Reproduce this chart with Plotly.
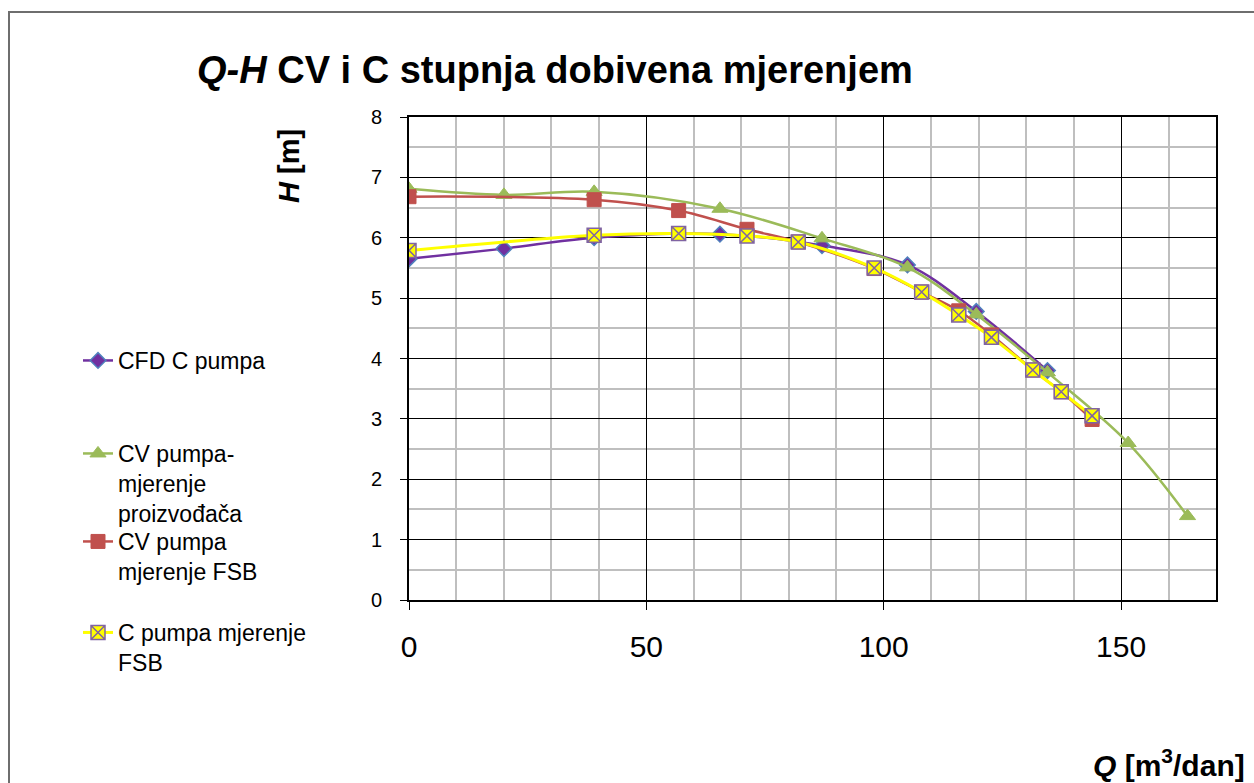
import plotly.graph_objects as go

# Q-H curves: flow Q [m3/dan] vs head H [m]
q_cfd = [0, 20, 39, 65.5, 87, 105, 119.5, 134.5]
h_cfd = [5.65, 5.82, 6.0, 6.06, 5.87, 5.55, 4.78, 3.8]

q_cv_proizv = [0, 20, 39, 65.5, 87, 105, 119.5, 134.5, 151.5, 164]
h_cv_proizv = [6.81, 6.71, 6.76, 6.48, 5.99, 5.51, 4.73, 3.77, 2.6, 1.39]

q_cv_fsb = [0, 39, 56.8, 71.2, 82, 98, 108, 115.8, 122.7, 131.4, 137.4, 143.9]
h_cv_fsb = [6.68, 6.63, 6.45, 6.14, 5.93, 5.49, 5.1, 4.79, 4.39, 3.81, 3.45, 2.99]

q_c_fsb = [0, 39, 56.8, 71.2, 82, 98, 108, 115.8, 122.7, 131.4, 137.4, 143.9]
h_c_fsb = [5.79, 6.04, 6.07, 6.03, 5.93, 5.5, 5.1, 4.72, 4.35, 3.81, 3.45, 3.05]

names = ["CFD C pumpa",
         "CV pumpa-<br>mjerenje<br>proizvođača",
         "CV pumpa<br>mjerenje FSB",
         "C pumpa mjerenje<br>FSB"]

FONT = "Liberation Sans, Arial, sans-serif"

fig = go.Figure()

fig.add_trace(go.Scatter(
    x=q_cfd, y=h_cfd, name=names[0], legend="legend",
    mode="lines+markers", line=dict(color="#7030A0", width=2.5, shape="spline"),
    marker=dict(symbol="diamond", size=12, color="#7030A0",
                line=dict(color="#4F81BD", width=1.5))))

fig.add_trace(go.Scatter(
    x=q_cv_proizv, y=h_cv_proizv, name=names[1], legend="legend2",
    mode="lines+markers", line=dict(color="#9BBB59", width=2.5, shape="spline"),
    marker=dict(symbol="triangle-up", size=14, color="#9BBB59",
                line=dict(color="#9BBB59", width=1))))

fig.add_trace(go.Scatter(
    x=q_cv_fsb, y=h_cv_fsb, name=names[2], legend="legend3",
    mode="lines+markers", line=dict(color="#C0504D", width=2.5, shape="spline"),
    marker=dict(symbol="square", size=14, color="#C0504D",
                line=dict(color="#C0504D", width=1))))

fig.add_trace(go.Scatter(
    x=q_c_fsb, y=h_c_fsb, name=names[3], legend="legend4",
    mode="lines+markers", line=dict(color="#FFFF00", width=3, shape="spline"),
    marker=dict(symbol="square-x", size=14, color="#FFFF00",
                line=dict(color="#8064A2", width=1.5))))

# plot area in pixels: x 409..1216, y 117..600
def px_x(p):
    return (p - 409) / 807.0

def px_y(p):
    return (600 - p) / 483.0

leg_common = dict(font=dict(family=FONT, size=23, color="black"),
                  bgcolor="rgba(0,0,0,0)", borderwidth=0,
                  xanchor="left", yanchor="top", valign="top",
                  itemclick=False, itemdoubleclick=False)

fig.update_layout(
    width=1254, height=783,
    margin=dict(l=409, r=38, t=117, b=183),
    paper_bgcolor="white", plot_bgcolor="white",
    font=dict(family=FONT, color="black"),
    showlegend=True,
    legend=dict(x=px_x(78), y=px_y(339), **leg_common),
    legend2=dict(x=px_x(78), y=px_y(432), **leg_common),
    legend3=dict(x=px_x(78), y=px_y(520), **leg_common),
    legend4=dict(x=px_x(78), y=px_y(611), **leg_common),
    xaxis=dict(range=[0, 170], dtick=50, tick0=0,
               showline=True, linewidth=2, linecolor="black", mirror=True,
               ticks="outside", ticklen=8, tickwidth=1, tickcolor="black",
               showgrid=True, gridcolor="black", gridwidth=1, zeroline=False,
               tickfont=dict(family=FONT, size=30, color="black"),
               ticklabelstandoff=11,
               minor=dict(dtick=10, showgrid=True, gridcolor="#BFBFBF",
                          gridwidth=2, ticks="")),
    yaxis=dict(range=[0, 8], dtick=1, tick0=0,
               showline=True, linewidth=2, linecolor="black", mirror=True,
               ticks="outside", ticklen=7, tickwidth=1, tickcolor="black",
               showgrid=True, gridcolor="black", gridwidth=1, zeroline=False,
               tickfont=dict(family=FONT, size=20, color="black"),
               ticklabelstandoff=14,
               minor=dict(dtick=0.5, showgrid=True, gridcolor="#BFBFBF",
                          gridwidth=2, ticks="")),
)

# chart title and axis titles
fig.add_annotation(xref="paper", yref="paper", x=px_x(195), y=px_y(70),
                   xanchor="left", yanchor="middle", showarrow=False,
                   text="<b><i>Q-H</i> CV i C stupnja dobivena mjerenjem</b>",
                   font=dict(family=FONT, size=38, color="black"))
fig.add_annotation(xref="paper", yref="paper", x=px_x(289), y=px_y(166),
                   xanchor="center", yanchor="middle", showarrow=False,
                   textangle=-90, text="<b><i>H</i> [m]</b>",
                   font=dict(family=FONT, size=29, color="black"))
fig.add_annotation(xref="paper", yref="paper", x=px_x(1247), y=px_y(763),
                   xanchor="right", yanchor="middle", showarrow=False,
                   text="<b><i>Q</i> [m<sup>3</sup>/dan]</b>",
                   font=dict(family=FONT, size=30, color="black"))

# chart-area border
fig.add_shape(type="rect", xref="paper", yref="paper",
              x0=px_x(9), x1=px_x(1300), y0=px_y(830), y1=px_y(12),
              line=dict(color="#6E6E6E", width=2), fillcolor="rgba(0,0,0,0)",
              layer="below")

fig.write_html("out.html")
